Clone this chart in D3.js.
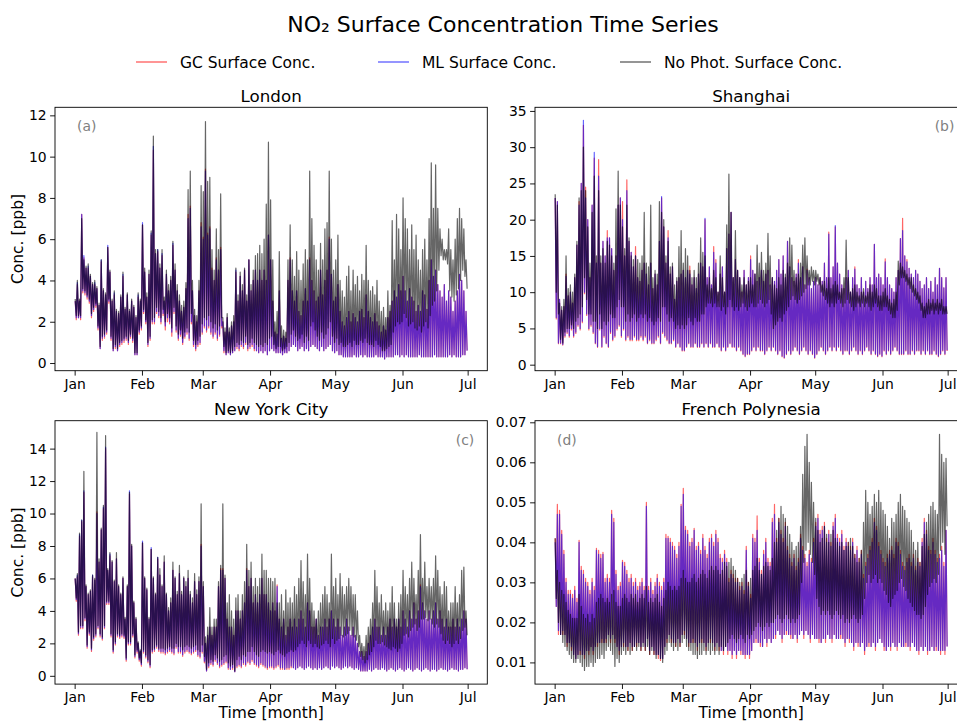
<!DOCTYPE html>
<html>
<head>
<meta charset="utf-8">
<script src="https://cdn.jsdelivr.net/npm/d3@7/dist/d3.min.js"></script>
<style>
  body { margin: 0; background: #fff; }
  text { font-family: "DejaVu Sans", sans-serif; }
</style>
</head>
<body>
<svg id="chart" width="957" height="722"></svg>
<script>
// daily peak (hi) and trough (lo) values, Jan 1 .. Jun 30

// ---- London
var lonGcHi = [3.0,3.8,3.0,7.2,5.1,4.6,4.6,4.2,3.8,3.8, 3.6,2.8,4.9,3.5,3.3,5.6,4.4,3.0,3.3,2.5, 2.4,3.2,4.2,2.6,3.3,2.5,3.0,2.7,2.2,3.2,
  3.0,6.7,4.4,3.2,4.3,6.2,10.3,5.3,5.4,4.6, 5.2,3.0,4.3,3.5,4.0,5.7,4.5,3.5,3.0,2.5, 2.7,3.6,7.2,7.6,3.5,2.3,2.0,3.5,6.8,6.1,
  9.4,6.3,6.6,4.6,4.0,5.1,4.5,5.6,2.0,1.5, 2.2,1.5,1.8,2.0,4.4,3.0,4.2,3.5,4.5,3.0, 5.0,3.5,4.0,4.5,4.0,4.5,4.0,4.5,4.0,6.2,
  5.0,3.0,1.5,1.4,3.5,1.2,1.3,1.2,4.0,5.1, 3.5,3.0,3.5,2.5,2.3,3.0,3.6,3.0,5.1,4.0, 3.5,3.0,3.2,4.5,3.3,4.0,4.5,6.1,4.3,3.0,
  3.2,3.8,2.5,2.0,1.8,2.2,2.5,2.0,2.4,2.2, 2.0,2.5,2.6,2.2,3.3,2.5,2.2,2.0,2.4,2.0, 1.8,1.5,1.8,1.6,2.2,2.5,3.0,3.5,3.2,3.8,
  3.5,4.2,3.5,3.0,3.6,3.2,3.0,2.5,2.8,2.5, 3.5,3.3,2.6,4.0,5.0,4.2,4.5,3.8,3.5,3.2, 3.8,3.0,3.5,3.2,2.5,3.0,3.5,4.3,4.0,3.5, 2.5];
var lonGcLo = [2.1,2.2,2.1,3.4,3.3,3.1,2.9,2.2,2.5,2.7, 1.6,0.7,1.1,1.2,1.4,2.9,1.1,0.6,0.7,0.6, 0.8,0.9,1.0,1.1,0.9,1.2,1.0,0.4,0.4,1.4,
  1.6,2.4,1.9,0.8,1.1,1.9,1.9,2.4,2.2,1.9, 2.3,1.6,2.0,1.9,1.3,2.4,1.5,1.1,1.3,0.9, 1.2,1.4,1.1,1.9,0.8,0.6,0.8,0.9,1.4,1.7,
  1.5,1.7,1.4,1.2,1.4,1.1,1.3,1.7,0.5,0.4, 0.5,0.4,0.5,0.6,0.7,0.6,0.8,0.7,0.9,0.6, 0.7,0.8,0.6,0.6,0.5,0.6,0.5,0.6,0.4,0.6,
  0.7,0.6,0.5,0.5,0.5,0.4,0.5,0.5,0.6,0.8, 0.9,0.8,0.6,0.7,0.8,0.6,0.7,0.6,0.8,0.9, 0.8,0.7,0.6,0.8,0.6,0.7,0.8,0.9,0.6,0.5,
  0.6,0.4,0.4,0.3,0.3,0.3,0.3,0.3,0.4,0.3, 0.3,0.4,0.3,0.4,0.3,0.3,0.3,0.3,0.4,0.3, 0.3,0.3,0.2,0.3,0.3,0.3,0.3,0.4,0.4,0.3,
  0.4,0.3,0.4,0.3,0.3,0.3,0.3,0.3,0.4,0.3, 0.3,0.3,0.3,0.3,0.3,0.4,0.3,0.3,0.3,0.3, 0.3,0.3,0.4,0.3,0.4,0.3,0.3,0.3,0.4,0.4, 0.6];
var lonMlHi = [3.0,3.9,3.0,7.2,5.2,4.6,4.7,4.2,3.8,3.9, 3.6,2.8,5.0,3.5,3.3,5.7,4.4,3.0,3.4,2.5, 2.4,3.2,4.3,2.6,3.3,2.5,3.0,2.7,2.2,3.3,
  3.0,6.8,4.4,3.2,4.3,6.3,10.5,5.3,5.5,4.6, 5.3,3.0,4.3,3.5,4.0,5.8,4.5,3.5,3.0,2.5, 2.7,3.6,7.0,7.5,3.5,2.3,2.0,3.5,6.6,6.0,
  9.3,6.2,6.5,4.5,4.0,5.0,4.5,5.5,2.0,1.5, 2.2,1.5,1.8,2.0,4.5,3.0,4.2,3.5,4.5,3.0, 5.0,3.5,4.0,4.5,4.0,4.5,4.0,4.5,4.0,6.2,
  5.0,3.0,1.5,1.4,3.5,1.2,1.3,1.2,4.0,5.0, 3.5,3.0,3.5,2.5,2.3,3.0,3.6,3.0,5.0,4.0, 3.5,3.0,3.2,4.5,3.3,4.0,4.5,6.0,4.3,3.0,
  3.2,3.8,2.5,2.0,1.8,2.2,2.5,2.0,2.4,2.2, 2.0,2.5,2.6,2.2,3.3,2.5,2.2,2.0,2.4,2.0, 1.8,1.5,1.8,1.6,2.2,2.5,3.0,3.5,3.2,3.8,
  3.5,4.2,3.5,3.0,3.6,3.2,3.0,2.5,2.8,2.5, 3.5,3.3,2.6,4.0,5.0,4.2,4.5,3.8,3.5,3.2, 3.8,3.0,3.5,3.2,2.5,3.0,3.5,4.3,4.0,3.5, 2.5];
var lonMlLo = [2.2,2.2,2.2,3.5,3.4,3.2,3.0,2.3,2.6,2.8, 1.7,0.7,1.2,1.3,1.5,3.0,1.2,0.6,0.8,0.6, 0.9,1.0,1.1,1.2,1.0,1.3,1.1,0.4,0.4,1.5,
  1.7,2.5,2.0,0.9,1.2,2.0,2.0,2.5,2.3,2.0, 2.4,1.8,2.2,2.0,1.5,2.5,1.6,1.2,1.4,1.0, 1.3,1.5,1.2,2.0,0.9,0.7,0.9,1.0,1.5,1.8,
  1.6,1.8,1.5,1.3,1.5,1.2,1.4,1.8,0.6,0.4, 0.5,0.4,0.5,0.6,0.8,0.7,0.9,0.8,1.0,0.7, 0.8,0.9,0.7,0.6,0.5,0.6,0.5,0.6,0.4,0.6,
  0.7,0.6,0.5,0.5,0.5,0.4,0.5,0.5,0.6,0.8, 0.9,0.8,0.6,0.7,0.8,0.6,0.7,0.6,0.8,0.9, 0.8,0.7,0.6,0.8,0.6,0.7,0.8,0.9,0.6,0.5,
  0.6,0.4,0.4,0.3,0.3,0.3,0.3,0.3,0.4,0.3, 0.3,0.4,0.3,0.4,0.3,0.3,0.3,0.3,0.4,0.3, 0.3,0.3,0.2,0.3,0.3,0.3,0.3,0.4,0.4,0.3,
  0.4,0.3,0.4,0.3,0.3,0.3,0.3,0.3,0.4,0.3, 0.3,0.3,0.3,0.3,0.3,0.4,0.3,0.3,0.3,0.3, 0.3,0.3,0.4,0.3,0.4,0.3,0.3,0.3,0.4,0.4, 0.6];
var lonNpHi = [3.1,4.0,3.1,7.0,5.0,4.7,4.8,4.3,3.9,4.0, 3.7,2.9,5.0,3.6,3.4,5.6,4.5,3.1,3.5,2.6, 2.5,3.3,4.4,2.7,3.4,2.6,3.1,2.8,2.3,3.4,
  3.1,6.7,4.6,3.4,4.5,6.4,11.0,5.5,5.5,4.8, 5.5,3.2,4.5,3.8,4.2,5.9,4.8,3.8,3.3,2.8, 3.0,3.9,8.4,9.3,4.0,2.6,2.3,4.0,8.6,8.3,
  11.7,8.8,9.0,5.5,4.5,6.5,5.5,8.2,2.2,1.7, 2.4,1.7,2.0,2.3,4.6,3.3,4.4,3.8,4.6,3.3, 5.0,3.8,4.5,5.2,5.3,5.7,5.3,6.0,7.7,10.7,
  7.9,5.0,2.0,2.5,5.4,1.8,1.6,1.5,5.0,6.7, 5.0,4.2,5.4,4.5,4.0,4.8,5.5,5.0,9.3,7.0, 5.7,5.0,4.5,5.8,5.0,6.5,6.8,9.3,6.0,4.5,
  5.0,6.2,4.0,3.5,3.2,4.2,4.7,3.5,4.5,3.8, 4.2,3.5,4.3,4.0,5.7,4.0,3.5,3.7,3.3,4.0, 3.0,2.5,2.7,2.2,3.5,2.8,6.9,5.0,7.2,6.5,
  5.5,8.0,7.0,6.5,5.5,6.7,5.5,6.2,5.0,4.5, 5.5,6.0,5.0,7.0,9.7,7.5,9.6,7.5,6.5,6.0, 5.5,5.5,6.5,5.5,5.0,6.0,7.0,7.5,7.0,6.5, 5.0];
var lonNpLo = [2.3,2.3,2.3,3.6,3.5,3.3,3.1,2.4,2.7,2.9, 1.8,0.8,1.3,1.4,1.6,3.1,1.3,0.7,0.9,0.7, 1.0,1.1,1.2,1.3,1.1,1.4,1.2,0.5,0.5,1.6,
  1.8,2.6,2.1,1.0,1.3,2.1,2.2,2.7,2.5,2.2, 2.6,2.0,2.4,2.2,1.7,2.7,1.8,1.4,1.6,1.2, 1.5,1.7,1.5,2.4,1.1,0.9,1.1,1.3,1.9,2.2,
  2.1,2.3,2.0,1.7,1.9,1.6,1.8,2.2,0.8,0.5, 0.6,0.5,0.6,0.8,1.0,0.9,1.1,1.0,1.3,0.9, 1.0,1.2,1.0,0.9,0.8,0.9,0.8,1.0,0.9,1.2,
  1.3,0.9,0.7,0.8,0.8,0.6,0.7,0.8,1.0,1.4, 1.6,1.3,1.1,1.2,1.4,1.0,1.3,1.1,1.8,2.0, 1.6,1.3,1.1,1.5,1.2,1.4,1.7,2.0,1.3,1.0,
  1.2,0.9,1.0,0.8,0.8,0.9,1.0,0.8,1.1,0.9, 0.9,1.1,1.0,1.2,1.0,0.9,0.9,0.8,1.1,0.9, 0.8,0.6,0.6,0.7,0.8,0.9,1.5,1.8,2.0,1.9,
  2.0,2.4,2.2,1.8,1.9,2.0,1.7,1.6,1.8,1.5, 1.8,2.0,1.7,2.3,2.8,3.0,3.5,4.5,5.2,5.0, 5.0,4.8,3.5,3.2,3.0,3.3,3.6,4.0,4.5,4.2, 3.6];

// ---- Shanghai
var shaGcHi = [23.0,22.5,9.0,7.5,8.0,12.5,9.5,10.0,8.5,12.0, 16.5,22.5,25.0,33.0,24.5,20.0,12.0,22.0,28.5,14.0, 28.3,14.0,17.0,15.0,18.5,17.5,16.0,13.0,15.0,22.0,
  23.0,22.5,15.0,25.5,17.0,15.5,13.5,16.3,12.0,11.5, 13.0,14.0,12.5,11.0,14.0,10.5,12.5,11.0,17.0,23.0, 19.0,14.0,18.5,12.5,13.5,9.0,11.5,12.0,12.5,13.0,
  12.0,13.0,13.6,11.0,12.0,10.5,12.5,14.0,13.5,20.0, 12.0,13.5,11.0,16.3,14.5,10.0,12.5,13.5,10.0,16.0, 18.0,21.0,12.0,14.5,13.0,12.0,10.0,13.0,11.0,12.0,
  15.0,13.0,12.5,11.5,12.0,13.0,11.5,12.5,13.0,11.0, 12.0,11.5,13.0,14.5,12.5,15.0,12.0,17.0,13.5,12.0, 11.5,12.5,14.5,12.0,13.5,11.0,13.2,12.0,10.5,11.5,
  12.0,11.0,12.0,11.5,14.0,12.0,18.3,12.0,13.5,19.0, 14.0,12.5,11.0,10.5,12.0,13.0,10.0,12.0,13.5,11.0, 10.5,12.0,10.0,11.5,10.5,12.0,11.0,16.6,12.0,12.5,
  12.0,11.0,14.6,12.0,11.0,10.5,10.0,12.0,13.0,17.4, 20.2,15.0,14.5,13.3,12.5,12.0,13.0,12.5,11.5,10.5, 11.0,12.0,10.5,11.5,10.0,12.0,11.0,13.3,12.0,10.6, 12.0];
var shaGcLo = [6.3,2.9,2.9,2.7,3.8,4.3,3.8,4.8,3.8,4.3, 5.3,4.8,5.8,9.8,6.8,4.8,5.3,4.3,2.9,2.4, 4.8,2.4,3.8,2.9,2.4,4.3,3.3,3.8,4.8,5.3,
  3.8,4.8,3.3,3.8,3.3,3.3,3.8,3.3,3.3,3.8, 3.3,3.8,2.9,3.3,2.9,2.9,3.3,3.8,2.9,4.3, 3.8,3.3,2.9,2.9,3.3,2.4,2.9,2.4,1.9,1.9,
  2.4,2.9,2.4,2.4,2.9,2.4,2.4,2.9,2.4,2.9, 2.4,2.9,2.4,2.4,2.9,2.4,1.9,2.4,1.9,2.4, 2.9,2.4,2.4,1.9,2.4,1.9,1.4,1.1,1.4,1.4,
  1.9,2.4,1.9,2.4,1.9,1.9,1.4,1.9,2.4,1.9, 2.4,1.9,1.4,1.9,1.1,0.9,1.4,1.9,1.4,1.9, 2.4,1.9,1.4,1.9,2.4,1.9,1.4,1.9,1.4,0.9,
  1.4,1.9,2.4,1.9,1.4,1.9,2.4,1.9,2.4,1.9, 2.4,1.9,1.4,1.9,1.9,1.4,1.9,2.4,1.9,1.4, 1.9,1.4,1.9,2.4,1.9,1.4,1.9,1.4,1.1,1.4,
  1.1,1.9,1.4,1.9,1.4,1.9,2.4,1.9,1.4,1.4, 1.4,1.9,1.4,1.4,1.9,1.4,1.9,1.9,1.4,1.9, 1.4,1.9,1.4,1.4,1.9,1.4,1.1,1.4,1.9,1.4, 1.9];
var shaMlHi = [23.0,22.5,9.0,7.5,8.0,12.2,9.5,10.0,8.5,12.0, 16.5,22.0,25.0,33.7,23.0,20.0,12.0,22.0,29.3,14.0, 26.0,14.0,17.0,15.0,17.5,17.5,16.0,13.0,15.0,22.0,
  23.0,20.0,15.0,24.0,17.0,15.5,13.5,15.0,12.0,11.5, 13.0,14.0,12.5,11.0,14.0,10.5,12.5,11.0,17.0,23.2, 19.0,14.0,17.5,12.5,13.5,9.0,11.5,12.0,12.5,13.0,
  12.0,13.0,12.5,11.0,12.0,10.5,12.5,14.0,13.5,20.2, 12.0,13.5,11.0,15.5,14.0,10.0,12.5,13.5,10.0,16.0, 18.0,21.0,12.0,14.5,13.0,12.0,10.0,13.0,11.0,12.0,
  14.5,13.0,12.5,11.5,12.0,13.0,11.5,12.5,13.0,11.0, 12.0,11.5,13.0,14.5,12.5,15.0,12.0,17.0,13.5,12.0, 11.5,12.5,14.0,12.0,13.5,11.0,13.0,12.0,10.5,11.5,
  12.0,11.0,12.0,11.5,14.0,12.0,18.0,12.0,13.5,19.2, 14.0,12.5,11.0,10.5,12.0,13.0,10.0,12.0,13.2,11.0, 10.5,12.0,10.0,11.5,10.5,12.0,11.0,16.6,12.0,12.5,
  12.0,11.0,14.2,12.0,11.0,10.5,10.0,12.0,13.0,17.4, 18.5,15.0,14.2,13.3,12.5,12.0,13.0,12.5,11.5,10.5, 11.0,12.0,10.5,11.5,10.0,12.0,11.0,13.3,12.0,10.6, 12.0];
var shaMlLo = [6.5,3.0,3.0,2.8,4.0,4.5,4.0,5.0,4.0,4.5, 5.5,5.0,6.0,10.0,7.0,5.0,5.5,4.5,3.0,2.5, 5.0,2.5,4.0,3.0,2.5,4.5,3.5,4.0,5.0,5.5,
  4.0,5.0,3.5,4.0,3.5,3.5,4.0,3.5,3.5,4.0, 3.5,4.0,3.0,3.5,3.0,3.0,3.5,4.0,3.0,4.5, 4.0,3.5,3.0,3.0,3.5,2.5,3.0,2.5,2.0,2.0,
  2.5,3.0,2.5,2.5,3.0,2.5,2.5,3.0,2.5,3.0, 2.5,3.0,2.5,2.5,3.0,2.5,2.0,2.5,2.0,2.5, 3.0,2.5,2.5,2.0,2.5,2.0,1.5,1.2,1.5,1.5,
  2.0,2.5,2.0,2.5,2.0,2.0,1.5,2.0,2.5,2.0, 2.5,2.0,1.5,2.0,1.2,1.0,1.5,2.0,1.5,2.0, 2.5,2.0,1.5,2.0,2.5,2.0,1.5,2.0,1.5,1.0,
  1.5,2.0,2.5,2.0,1.5,2.0,2.5,2.0,2.5,2.0, 2.5,2.0,1.5,2.0,2.0,1.5,2.0,2.5,2.0,1.5, 2.0,1.5,2.0,2.5,2.0,1.5,2.0,1.5,1.2,1.5,
  1.2,2.0,1.5,2.0,1.5,2.0,2.5,2.0,1.5,1.5, 1.5,2.0,1.5,1.5,2.0,1.5,2.0,2.0,1.5,2.0, 1.5,2.0,1.5,1.5,2.0,1.5,1.2,1.5,2.0,1.5, 2.0];
var shaNpHi = [23.5,22.0,8.5,8.0,9.0,15.0,10.5,11.0,10.0,12.5, 17.0,23.0,24.0,30.0,24.0,19.0,14.0,21.0,26.0,15.0, 24.0,15.0,16.0,14.0,17.0,16.5,15.0,14.0,21.5,26.7,
  22.0,19.0,16.0,22.0,17.5,15.0,14.5,15.0,14.5,14.0, 15.0,21.0,14.0,13.5,22.0,12.0,13.0,12.5,22.5,21.0, 20.0,15.0,17.0,13.5,14.0,11.0,12.0,16.3,18.5,14.0,
  16.0,15.0,13.0,12.0,13.0,12.0,14.0,17.5,15.5,15.0, 11.0,12.0,10.5,13.0,12.0,10.0,15.0,12.0,10.0,19.3, 26.3,21.0,12.0,18.5,13.0,12.0,11.0,12.0,11.0,11.5,
  12.0,11.0,12.5,16.5,14.0,15.5,13.0,14.0,18.1,15.0, 12.0,11.0,10.5,12.0,11.0,13.0,12.5,14.0,17.5,16.5, 13.0,12.0,12.5,14.0,16.5,17.5,15.0,13.0,13.5,13.0,
  13.0,12.5,12.0,11.0,11.5,10.5,12.0,10.5,11.0,11.5, 11.0,10.0,10.5,12.0,17.2,12.0,10.0,10.5,11.0,10.0, 9.5,10.0,10.5,9.5,10.0,11.0,10.0,11.0,10.5,9.5,
  9.5,10.0,10.5,9.5,9.0,8.5,9.0,10.0,14.3,14.0, 13.5,13.0,12.5,12.0,12.0,11.0,10.5,10.0,9.5,8.5, 8.0,8.5,9.0,8.5,9.0,8.5,9.0,8.5,9.0,8.0, 8.0];
var shaNpLo = [10.0,7.0,3.5,3.0,4.5,5.0,5.0,5.5,5.0,6.0, 6.5,7.0,8.0,12.0,9.0,7.0,7.0,6.0,6.0,5.0, 7.0,5.0,6.0,5.5,6.0,7.0,6.5,6.5,8.0,9.0,
  8.0,8.0,6.0,7.0,6.0,6.5,7.0,6.0,6.5,7.0, 6.5,7.0,6.0,6.5,6.0,5.5,6.0,6.5,6.0,8.0, 8.0,7.0,6.0,6.5,6.0,5.0,5.5,5.0,5.5,5.0,
  5.5,6.5,6.0,5.5,6.5,6.0,6.0,7.0,7.0,8.0, 8.5,8.5,8.0,8.5,8.0,8.0,7.5,8.0,7.0,8.0, 9.0,8.0,7.5,8.0,7.5,8.0,8.5,8.0,7.5,8.0,
  8.5,8.0,8.0,8.5,9.0,8.5,8.0,8.5,9.0,7.0, 5.0,5.5,6.0,6.5,6.0,7.0,7.5,8.0,9.0,9.5, 9.0,8.5,9.0,9.5,10.0,10.5,11.0,11.0,11.5,11.0,
  11.5,11.0,10.0,9.5,9.0,8.5,8.0,8.5,8.0,8.5, 9.0,8.5,8.0,8.5,9.0,8.5,8.0,7.5,8.0,8.5, 8.0,8.5,8.0,8.5,8.0,7.5,8.0,8.5,8.0,7.5,
  7.5,8.0,8.0,7.5,7.0,6.5,6.5,7.5,11.0,12.0, 12.0,11.5,11.0,10.5,10.0,9.5,9.0,8.5,7.5,6.5, 6.5,7.0,7.0,7.5,7.0,7.5,7.0,7.5,7.0,7.0, 7.0];

// ---- New York City
var nycGcHi = [6.0,6.1,8.6,9.5,11.3,5.5,5.0,5.2,6.1,5.9, 10.1,7.0,9.0,10.3,14.0,6.5,7.4,7.0,5.8,7.2, 5.5,5.0,6.0,3.5,5.5,11.2,8.0,4.5,3.5,2.0,
  1.5,8.2,6.0,5.3,3.5,7.8,6.0,5.0,7.2,6.2, 5.5,7.0,5.0,4.0,4.5,6.5,6.0,5.0,6.3,5.0, 6.0,5.5,6.0,5.0,4.5,5.8,5.0,5.8,8.1,5.5,
  2.0,2.5,3.0,2.5,3.0,3.0,5.5,6.6,6.6,6.0, 3.5,3.0,3.0,2.5,4.0,4.0,3.5,4.0,4.5,6.6, 5.5,6.0,4.5,5.0,4.5,5.0,6.0,5.0,5.0,4.5,
  4.0,4.5,4.0,5.6,3.5,3.0,3.5,2.5,3.0,3.5, 3.0,3.5,3.0,3.5,4.0,3.5,3.0,4.5,4.0,3.0, 3.0,3.5,2.5,3.0,3.0,3.5,3.0,3.5,4.0,3.5,
  3.0,3.5,3.0,2.5,3.0,3.5,3.0,2.5,3.0,2.5, 2.0,1.5,1.5,1.2,1.5,2.0,2.5,3.0,3.5,3.0, 3.0,2.5,3.0,2.5,3.0,3.5,3.0,3.5,3.0,3.5,
  3.0,4.0,3.5,3.0,4.0,3.5,4.5,3.5,4.0,5.6, 4.5,4.0,3.5,4.0,3.5,4.0,4.5,3.5,4.0,3.5, 3.0,3.5,3.0,3.0,3.5,3.0,3.5,3.0,3.5,4.0, 3.5];
var nycGcLo = [4.6,2.5,2.9,2.9,3.4,1.7,2.5,1.5,2.2,2.4, 2.9,2.4,2.2,2.9,4.4,4.4,2.4,1.4,1.9,2.4, 2.3,2.4,2.3,0.9,1.9,1.9,2.4,1.1,1.4,0.9,
  0.6,1.4,1.1,0.8,0.5,1.4,1.5,1.7,1.5,1.4, 1.4,1.3,1.4,1.5,1.4,1.3,1.7,1.4,1.4,1.2, 1.4,1.5,1.4,1.3,1.4,1.5,1.2,1.1,1.4,0.8,
  0.3,0.5,0.7,0.6,0.9,0.7,0.5,0.6,0.7,0.8, 0.4,0.4,0.4,0.25,0.5,0.6,0.5,0.7,0.6,0.8, 0.7,0.9,0.7,0.6,0.5,0.7,0.6,0.5,0.4,0.5,
  0.5,0.4,0.5,0.6,0.4,0.4,0.4,0.4,0.4,0.5, 0.5,0.4,0.5,0.6,0.5,0.4,0.5,0.6,0.5,0.4, 0.5,0.4,0.5,0.4,0.5,0.6,0.5,0.4,0.6,0.5,
  0.6,0.5,0.4,0.5,0.6,0.5,0.6,0.5,0.4,0.5, 0.4,0.3,0.3,0.3,0.3,0.4,0.3,0.4,0.5,0.4, 0.4,0.5,0.4,0.3,0.4,0.5,0.4,0.3,0.4,0.5,
  0.4,0.3,0.4,0.5,0.4,0.3,0.4,0.5,0.4,0.3, 0.4,0.5,0.4,0.3,0.4,0.4,0.3,0.4,0.5,0.4, 0.4,0.3,0.4,0.5,0.4,0.4,0.3,0.4,0.4,0.5, 0.4];
var nycMlHi = [6.0,6.2,8.7,9.6,11.4,5.5,5.0,5.2,6.2,5.9, 10.0,7.0,9.0,10.4,14.1,6.5,7.5,7.0,5.8,7.2, 5.5,5.0,6.0,3.5,5.5,11.4,8.0,4.5,3.5,2.0,
  1.5,8.3,6.0,5.3,3.5,7.9,6.0,5.0,7.3,6.2, 5.5,7.0,5.0,4.0,4.5,6.5,6.0,5.0,6.3,5.0, 6.0,5.5,6.0,5.0,4.5,5.8,5.0,5.8,8.0,5.5,
  2.0,2.5,3.0,2.5,3.0,3.0,5.5,6.5,6.5,6.0, 3.5,3.0,3.0,2.5,4.0,4.0,3.5,4.0,4.5,6.5, 5.5,6.0,4.5,5.0,4.5,5.0,6.0,5.0,5.0,4.5,
  4.0,4.5,4.0,5.5,3.5,3.0,3.5,2.5,3.0,3.5, 3.0,3.5,3.0,3.5,4.0,3.5,3.0,4.5,4.0,3.0, 3.0,3.5,2.5,3.0,3.0,3.5,3.0,3.5,4.0,3.5,
  3.0,3.5,3.0,2.5,3.0,3.5,3.0,2.5,3.0,2.5, 2.0,1.5,1.5,1.2,1.5,2.0,2.5,3.0,3.5,3.0, 3.0,2.5,3.0,2.5,3.0,3.5,3.0,3.5,3.0,3.5,
  3.0,4.0,3.5,3.0,4.0,3.5,4.5,3.5,4.0,5.5, 4.5,4.0,3.5,4.0,3.5,4.0,4.5,3.5,4.0,3.5, 3.0,3.5,3.0,3.0,3.5,3.0,3.5,3.0,3.5,4.0, 3.5];
var nycMlLo = [4.7,2.6,3.0,3.0,3.5,1.8,2.6,1.6,2.3,2.5, 3.0,2.5,2.3,3.0,4.5,4.5,2.5,1.5,2.0,2.5, 2.4,2.5,2.4,1.0,2.0,2.0,2.5,1.2,1.5,1.0,
  0.7,1.5,1.2,0.9,0.6,1.5,1.6,1.8,1.6,1.5, 1.5,1.4,1.5,1.6,1.5,1.4,1.8,1.5,1.5,1.3, 1.5,1.6,1.5,1.4,1.5,1.6,1.3,1.2,1.5,0.9,
  0.3,0.6,0.8,0.7,1.0,0.8,0.6,0.7,0.8,0.9, 0.5,0.4,0.5,0.25,0.6,0.7,0.6,0.8,0.7,0.9, 0.8,1.0,0.8,0.7,0.6,0.8,0.7,0.6,0.5,0.6,
  0.6,0.5,0.6,0.7,0.5,0.5,0.4,0.5,0.5,0.6, 0.5,0.4,0.5,0.6,0.5,0.4,0.5,0.6,0.5,0.4, 0.5,0.4,0.5,0.4,0.5,0.6,0.5,0.4,0.6,0.5,
  0.6,0.5,0.4,0.5,0.6,0.5,0.6,0.5,0.4,0.5, 0.4,0.3,0.3,0.3,0.3,0.4,0.3,0.4,0.5,0.4, 0.4,0.5,0.4,0.3,0.4,0.5,0.4,0.3,0.4,0.5,
  0.4,0.3,0.4,0.5,0.4,0.3,0.4,0.5,0.4,0.3, 0.4,0.5,0.4,0.3,0.4,0.4,0.3,0.4,0.5,0.4, 0.4,0.3,0.4,0.5,0.4,0.4,0.3,0.4,0.4,0.5, 0.4];
var nycNpHi = [6.0,6.3,8.8,9.6,12.6,5.6,5.1,5.3,6.2,6.0, 15.0,7.2,9.1,10.5,14.8,6.6,7.6,7.1,5.9,7.6, 5.6,5.1,6.1,3.6,5.6,11.3,8.1,4.6,3.6,2.1,
  1.6,8.2,6.1,5.4,3.6,7.8,6.1,5.1,7.3,6.6, 5.6,7.4,5.1,4.2,4.8,7.0,6.1,5.2,6.8,5.2, 6.1,5.8,6.5,5.2,4.8,6.3,5.3,6.1,10.6,5.8,
  2.4,3.0,4.2,3.0,3.5,3.5,5.8,6.8,10.6,6.2, 4.5,5.0,4.0,3.5,4.8,5.0,4.0,5.0,5.8,8.1, 6.5,7.0,5.5,6.0,5.5,6.0,7.5,6.5,6.5,6.0,
  6.0,5.8,6.0,4.5,4.5,5.0,4.0,5.3,4.5,4.8, 4.5,5.5,5.0,6.0,7.1,5.8,5.0,7.5,6.0,4.5, 4.0,3.5,4.0,4.5,5.0,5.5,5.0,4.5,7.5,5.5,
  6.0,5.0,6.3,5.5,5.0,5.5,6.0,5.5,5.0,5.0, 4.0,2.5,2.0,1.8,2.5,3.0,3.5,4.5,6.5,5.5, 4.5,5.0,4.0,4.5,4.0,4.5,5.5,4.5,3.5,4.5,
  5.0,6.5,5.5,5.0,6.0,7.0,6.0,5.0,6.5,8.7, 6.0,7.0,5.5,6.0,5.5,6.0,7.4,6.5,5.5,5.0, 5.8,5.5,4.0,4.5,4.5,5.5,4.5,5.0,6.5,6.7, 4.0];
var nycNpLo = [4.8,2.7,3.1,3.1,3.6,1.9,2.7,1.7,2.4,2.6, 3.1,2.6,2.4,3.1,4.6,4.6,2.6,1.6,2.1,2.6, 2.5,2.6,2.5,1.1,2.1,2.1,2.6,1.3,1.6,1.1,
  0.8,1.6,1.3,1.0,0.7,1.6,1.7,1.9,1.7,1.7, 1.7,1.6,1.7,1.8,1.7,1.7,2.0,1.8,1.8,1.6, 1.8,1.9,1.8,1.7,1.8,1.9,1.6,1.5,1.9,1.2,
  0.4,0.8,1.0,0.9,1.3,1.1,0.9,1.0,1.2,1.3, 0.8,0.6,0.7,0.3,1.0,1.2,1.0,1.3,1.2,1.5, 1.5,1.8,1.5,1.3,1.2,1.5,1.6,1.5,1.4,1.5,
  1.4,1.3,1.5,1.6,1.4,1.3,1.2,1.4,1.5,1.6, 1.5,1.6,1.8,2.0,2.2,2.0,1.8,2.2,2.0,1.8, 2.0,1.8,1.7,1.9,2.0,2.2,2.0,1.8,2.3,2.0,
  2.2,2.3,2.5,2.4,2.5,2.6,2.8,2.5,2.4,2.2, 1.8,1.2,1.0,0.8,1.0,1.3,1.5,1.8,2.2,2.0, 2.0,2.1,1.9,1.8,1.7,1.6,1.8,1.7,1.5,1.7,
  2.0,2.5,2.6,2.4,2.8,3.0,3.2,2.8,3.0,3.5, 3.5,3.6,3.4,3.5,3.2,3.0,3.2,3.0,2.6,2.2, 2.0,2.2,2.0,1.8,2.0,2.2,2.0,2.3,2.8,3.0, 2.5];

// ---- French Polynesia
var fpoGcHi = [.041,.0495,.048,.043,.038,.031,.028,.028,.027,.029, .026,.0405,.034,.033,.031,.030,.028,.031,.029,.0385, .038,.037,.0375,.031,.032,.031,.048,.046,.033,.029,
  .030,.0355,.035,.033,.031,.032,.030,.031,.029,.030, .031,.029,.050,.029,.031,.028,.030,.032,.030,.029, .031,.042,.0415,.041,.040,.039,.037,.040,.0495,.0535,
  .044,.043,.040,.041,.0435,.039,.040,.038,.042,.039, .037,.041,.042,.040,.043,.041,.037,.036,.038,.036, .031,.033,.032,.031,.031,.029,.030,.028,.039,.030,
  .027,.042,.041,.0466,.036,.033,.038,.041,.036,.035, .046,.0495,.041,.046,.043,.041,.045,.039,.037,.035, .037,.034,.036,.042,.039,.037,.035,.038,.036,.041,
  .045,.047,.043,.044,.045,.041,.043,.040,.045,.047, .042,.041,.043,.039,.041,.040,.039,.041,.037,.039, .036,.038,.032,.035,.037,.039,.041,.046,.044,.040,
  .038,.036,.035,.037,.038,.039,.037,.041,.040,.038, .035,.034,.036,.037,.035,.037,.034,.036,.035,.041, .046,.043,.039,.038,.041,.038,.036,.037,.039,.035, .043];
var fpoGcLo = [.024,.017,.017,.017,.017,.014,.015,.013,.012,.011, .012,.012,.012,.011,.013,.012,.014,.012,.014,.014, .015,.015,.015,.015,.017,.015,.017,.015,.014,.012,
  .014,.014,.014,.013,.015,.013,.014,.014,.015,.013, .015,.013,.016,.012,.014,.012,.012,.011,.0105,.011, .014,.015,.017,.015,.015,.014,.016,.014,.017,.017,
  .016,.014,.015,.015,.015,.013,.015,.015,.015,.013, .015,.015,.015,.013,.015,.013,.013,.012,.014,.012, .013,.011,.013,.011,.013,.012,.012,.011,.012,.011,
  .013,.015,.015,.015,.014,.014,.016,.014,.016,.015, .016,.016,.018,.017,.015,.017,.017,.017,.016,.016, .017,.015,.017,.018,.016,.018,.017,.015,.017,.016,
  .016,.015,.015,.016,.015,.017,.016,.015,.017,.016, .016,.016,.016,.014,.016,.015,.015,.013,.015,.014, .014,.015,.012,.014,.014,.014,.015,.013,.015,.016,
  .015,.013,.013,.014,.013,.015,.014,.013,.015,.014, .014,.014,.014,.013,.015,.014,.013,.012,.014,.013, .014,.012,.013,.014,.013,.013,.013,.012,.013,.012, .014];
var fpoMlHi = [.040,.047,.047,.042,.037,.030,.027,.027,.026,.028, .025,.040,.033,.032,.030,.029,.027,.030,.028,.038, .037,.036,.037,.030,.031,.030,.047,.045,.032,.028,
  .029,.035,.034,.032,.030,.031,.029,.030,.028,.029, .030,.028,.049,.028,.030,.027,.029,.031,.029,.028, .030,.041,.041,.040,.039,.038,.036,.039,.049,.052,
  .043,.042,.039,.040,.043,.038,.039,.037,.041,.038, .036,.040,.041,.039,.042,.040,.036,.035,.037,.035, .030,.032,.031,.030,.030,.028,.029,.027,.038,.029,
  .026,.041,.040,.043,.035,.032,.037,.040,.035,.034, .045,.047,.040,.045,.042,.040,.044,.038,.036,.034, .036,.033,.035,.041,.038,.036,.034,.037,.035,.040,
  .044,.046,.042,.043,.044,.040,.042,.039,.044,.046, .041,.040,.042,.038,.040,.039,.038,.040,.036,.038, .035,.037,.031,.034,.036,.038,.040,.045,.043,.039,
  .037,.035,.034,.036,.037,.038,.036,.040,.039,.037, .034,.033,.035,.036,.034,.036,.033,.035,.034,.040, .045,.042,.038,.037,.040,.037,.035,.036,.038,.034, .043];
var fpoMlLo = [.024,.018,.017,.018,.017,.015,.015,.014,.012,.011, .012,.013,.012,.012,.013,.013,.014,.013,.014,.015, .015,.016,.015,.016,.017,.016,.017,.016,.014,.013,
  .014,.015,.014,.014,.015,.014,.014,.015,.015,.014, .015,.014,.016,.013,.014,.013,.012,.012,.011,.011, .014,.016,.017,.016,.015,.015,.016,.015,.017,.018,
  .016,.015,.015,.016,.015,.014,.015,.016,.015,.014, .015,.016,.015,.014,.015,.014,.013,.013,.014,.013, .013,.012,.013,.012,.013,.013,.012,.012,.012,.012,
  .013,.015,.016,.015,.015,.014,.016,.015,.016,.015, .016,.017,.018,.017,.016,.017,.018,.017,.017,.016, .017,.016,.017,.018,.017,.018,.017,.016,.017,.016,
  .016,.016,.015,.016,.016,.017,.016,.016,.017,.016, .016,.017,.016,.015,.016,.016,.015,.014,.015,.015, .014,.015,.013,.014,.015,.014,.015,.014,.015,.016,
  .015,.014,.013,.014,.014,.015,.014,.014,.015,.014, .014,.015,.014,.014,.015,.014,.013,.013,.014,.013, .014,.013,.013,.014,.013,.014,.013,.013,.013,.013, .014];
var fpoNpHi = [.041,.033,.030,.028,.027,.025,.023,.022,.021,.021, .021,.027,.024,.022,.021,.022,.020,.022,.021,.025, .026,.027,.026,.025,.026,.025,.027,.028,.025,.024,
  .024,.026,.027,.026,.025,.027,.026,.027,.025,.026, .027,.026,.029,.025,.026,.025,.026,.027,.025,.024, .026,.028,.030,.029,.028,.029,.028,.029,.031,.033,
  .031,.030,.030,.031,.032,.030,.031,.032,.033,.032, .031,.033,.034,.033,.034,.033,.032,.033,.035,.034, .035,.036,.034,.033,.031,.030,.031,.032,.033,.030,
  .031,.033,.034,.036,.033,.032,.034,.035,.034,.033, .036,.040,.043,.046,.049,.047,.046,.044,.042,.040, .038,.039,.040,.044,.057,.064,.067,.060,.055,.050,
  .046,.043,.040,.041,.044,.042,.040,.042,.043,.041, .040,.039,.040,.038,.039,.040,.041,.039,.037,.035, .036,.038,.045,.053,.050,.047,.049,.052,.050,.053,
  .050,.048,.047,.044,.041,.046,.045,.047,.050,.052, .049,.048,.046,.045,.043,.040,.038,.040,.035,.039, .042,.045,.047,.049,.050,.048,.047,.067,.062,.060, .061];
var fpoNpLo = [.026,.020,.017,.015,.014,.013,.012,.011,.010,.010, .011,.010,.009,.008,.009,.009,.010,.009,.010,.011, .011,.012,.011,.013,.014,.013,.012,.009,.011,.010,
  .012,.013,.012,.013,.012,.013,.014,.013,.014,.013, .014,.013,.014,.012,.013,.012,.011,.012,.011,.010, .012,.013,.015,.014,.013,.014,.013,.014,.015,.016,
  .014,.013,.013,.012,.012,.011,.012,.012,.013,.012, .013,.012,.013,.012,.013,.012,.014,.013,.014,.015, .016,.017,.016,.015,.016,.017,.016,.015,.017,.016,
  .017,.018,.019,.020,.019,.018,.019,.020,.019,.020, .020,.021,.022,.021,.020,.021,.022,.021,.020,.021, .020,.021,.022,.030,.035,.038,.040,.037,.035,.032,
  .026,.024,.022,.023,.022,.023,.022,.021,.022,.023, .022,.021,.022,.020,.021,.020,.021,.022,.021,.020, .021,.022,.026,.030,.032,.030,.031,.032,.030,.031,
  .030,.028,.027,.025,.024,.026,.027,.028,.030,.031, .029,.028,.026,.025,.024,.023,.022,.022,.021,.022, .024,.027,.029,.030,.031,.030,.032,.038,.040,.037, .044];

// axis ticks and labels
var monthLabels = ["Jan", "Feb", "Mar", "Apr", "May", "Jun", "Jul"];
var monthStartDay = [0, 31, 59, 90, 120, 151, 181];
var lonTicks = [0, 2, 4, 6, 8, 10, 12];
var shaTicks = [0, 5, 10, 15, 20, 25, 30, 35];
var nycTicks = [0, 2, 4, 6, 8, 10, 12, 14];
var fpoTicks = [0.01, 0.02, 0.03, 0.04, 0.05, 0.06, 0.07];

var seriesNames = ["GC Surface Conc.", "ML Surface Conc.", "No Phot. Surface Conc."];
var seriesColors = ["#ff0000", "#0000ff", "#000000"];

var T0 = Date.UTC(2019, 0, 1), DAY = 864e5;
function dayDate(d) { return new Date(T0 + d * DAY); }

var panels = [
    { title: "London", tag: "(a)", tagRight: false, col: 0, row: 0, ylab: true, xlab: false,
      yDomain: [-0.372, 12.39], ticks: lonTicks, fmt: d3.format("d"),
      series: [[lonGcHi, lonGcLo], [lonMlHi, lonMlLo], [lonNpHi, lonNpLo]] },
    { title: "Shanghai", tag: "(b)", tagRight: true, col: 1, row: 0, ylab: false, xlab: false,
      yDomain: [-0.83, 35.5], ticks: shaTicks, fmt: d3.format("d"),
      series: [[shaGcHi, shaGcLo], [shaMlHi, shaMlLo], [shaNpHi, shaNpLo]] },
    { title: "New York City", tag: "(c)", tagRight: true, col: 0, row: 1, ylab: true, xlab: true,
      yDomain: [-0.51, 15.72], ticks: nycTicks, fmt: d3.format("d"),
      series: [[nycGcHi, nycGcLo], [nycMlHi, nycMlLo], [nycNpHi, nycNpLo]] },
    { title: "French Polynesia", tag: "(d)", tagRight: false, col: 1, row: 1, ylab: false, xlab: true,
      yDomain: [0.00458, 0.0704], ticks: fpoTicks, fmt: d3.format(".2f"),
      series: [[fpoGcHi, fpoGcLo], [fpoMlHi, fpoMlLo], [fpoNpHi, fpoNpLo]] }
];

var svg = d3.select("#chart");
svg.append("rect").attr("width", 957).attr("height", 722).attr("fill", "#fff");

var colX = [55, 535], rowY = [107.3, 420.7];
var pw = 432.3, ph = 263.4;

svg.append("text")
    .attr("x", 503).attr("y", 32)
    .attr("text-anchor", "middle")
    .attr("font-size", "22px")
    .text("NO\u2082 Surface Concentration Time Series");

// legend
var legX = [136, 378, 620];
var leg = svg.selectAll("g.leg")
    .data(seriesNames)
  .enter().append("g")
    .attr("class", "leg")
    .attr("transform", function(d, i) { return "translate(" + legX[i] + ",62)"; });
leg.append("line")
    .attr("x1", 0).attr("x2", 31)
    .attr("stroke", function(d, i) { return seriesColors[i]; })
    .attr("stroke-opacity", 0.6)
    .attr("stroke-width", 1.4);
leg.append("text")
    .attr("x", 44).attr("y", 6)
    .attr("font-size", "15.5px")
    .text(function(d) { return d; });

var line = d3.line()
    .x(function(p) { return p.x; })
    .y(function(p) { return p.y; });

panels.forEach(function(p, k) {
    var x0 = colX[p.col], y0 = rowY[p.row];

    var x = d3.scaleUtc()
        .domain([dayDate(-9.05), dayDate(181 + 9.05)])
        .range([0, pw]);
    var y = d3.scaleLinear()
        .domain(p.yDomain)
        .range([ph, 0]);

    var g = svg.append("g")
        .attr("transform", "translate(" + x0 + "," + y0 + ")");

    g.append("clipPath").attr("id", "clip" + k)
      .append("rect").attr("width", pw).attr("height", ph);

    var plot = g.append("g").attr("clip-path", "url(#clip" + k + ")");

    p.series.forEach(function(s, i) {
        var hi = s[0], lo = s[1], pts = [];
        var n = Math.min(hi.length, lo.length);
        for (var d = 0; d < n; d++) {
            pts.push({ x: x(dayDate(d + 0.25)), y: y(hi[d]) });
            pts.push({ x: x(dayDate(d + 0.75)), y: y(lo[d]) });
        }
        plot.append("path")
            .attr("d", line(pts))
            .attr("fill", "none")
            .attr("stroke", seriesColors[i])
            .attr("stroke-opacity", 0.6)
            .attr("stroke-width", 1.2)
            .attr("stroke-linejoin", "round");
    });

    // frame
    g.append("rect")
        .attr("width", pw).attr("height", ph)
        .attr("fill", "none")
        .attr("stroke", "#000")
        .attr("stroke-width", 0.9);

    var xAxis = d3.axisBottom(x)
        .tickValues(monthStartDay.map(dayDate))
        .tickFormat(function(d, i) { return monthLabels[i]; })
        .tickSize(4.9).tickPadding(3.5).tickSizeOuter(0);
    var yAxis = d3.axisLeft(y)
        .tickValues(p.ticks)
        .tickFormat(p.fmt)
        .tickSize(4.9).tickPadding(3.5).tickSizeOuter(0);

    [g.append("g").attr("transform", "translate(0," + ph + ")").call(xAxis),
     g.append("g").call(yAxis)].forEach(function(a) {
        a.attr("font-family", "DejaVu Sans").attr("font-size", "13.9px");
        a.select(".domain").remove();
        a.selectAll(".tick line").attr("stroke", "#000").attr("stroke-width", 0.9);
        a.selectAll(".tick text").attr("fill", "#000");
    });

    g.append("text")
        .attr("x", pw / 2).attr("y", -5.5)
        .attr("text-anchor", "middle")
        .attr("font-size", "16.7px")
        .text(p.title);

    g.append("text")
        .attr("x", p.tagRight ? pw - 13 : 22)
        .attr("y", 24)
        .attr("text-anchor", p.tagRight ? "end" : "start")
        .attr("font-size", "13.9px")
        .attr("fill", "#808080")
        .text(p.tag);

    if (p.ylab) {
        g.append("text")
            .attr("transform", "translate(" + (-32) + "," + (ph / 2) + ") rotate(-90)")
            .attr("text-anchor", "middle")
            .attr("font-size", "15.5px")
            .text("Conc. [ppb]");
    }
    if (p.xlab) {
        g.append("text")
            .attr("x", pw / 2).attr("y", ph + 34)
            .attr("text-anchor", "middle")
            .attr("font-size", "15.5px")
            .text("Time [month]");
    }
});
</script>
</body>
</html>
